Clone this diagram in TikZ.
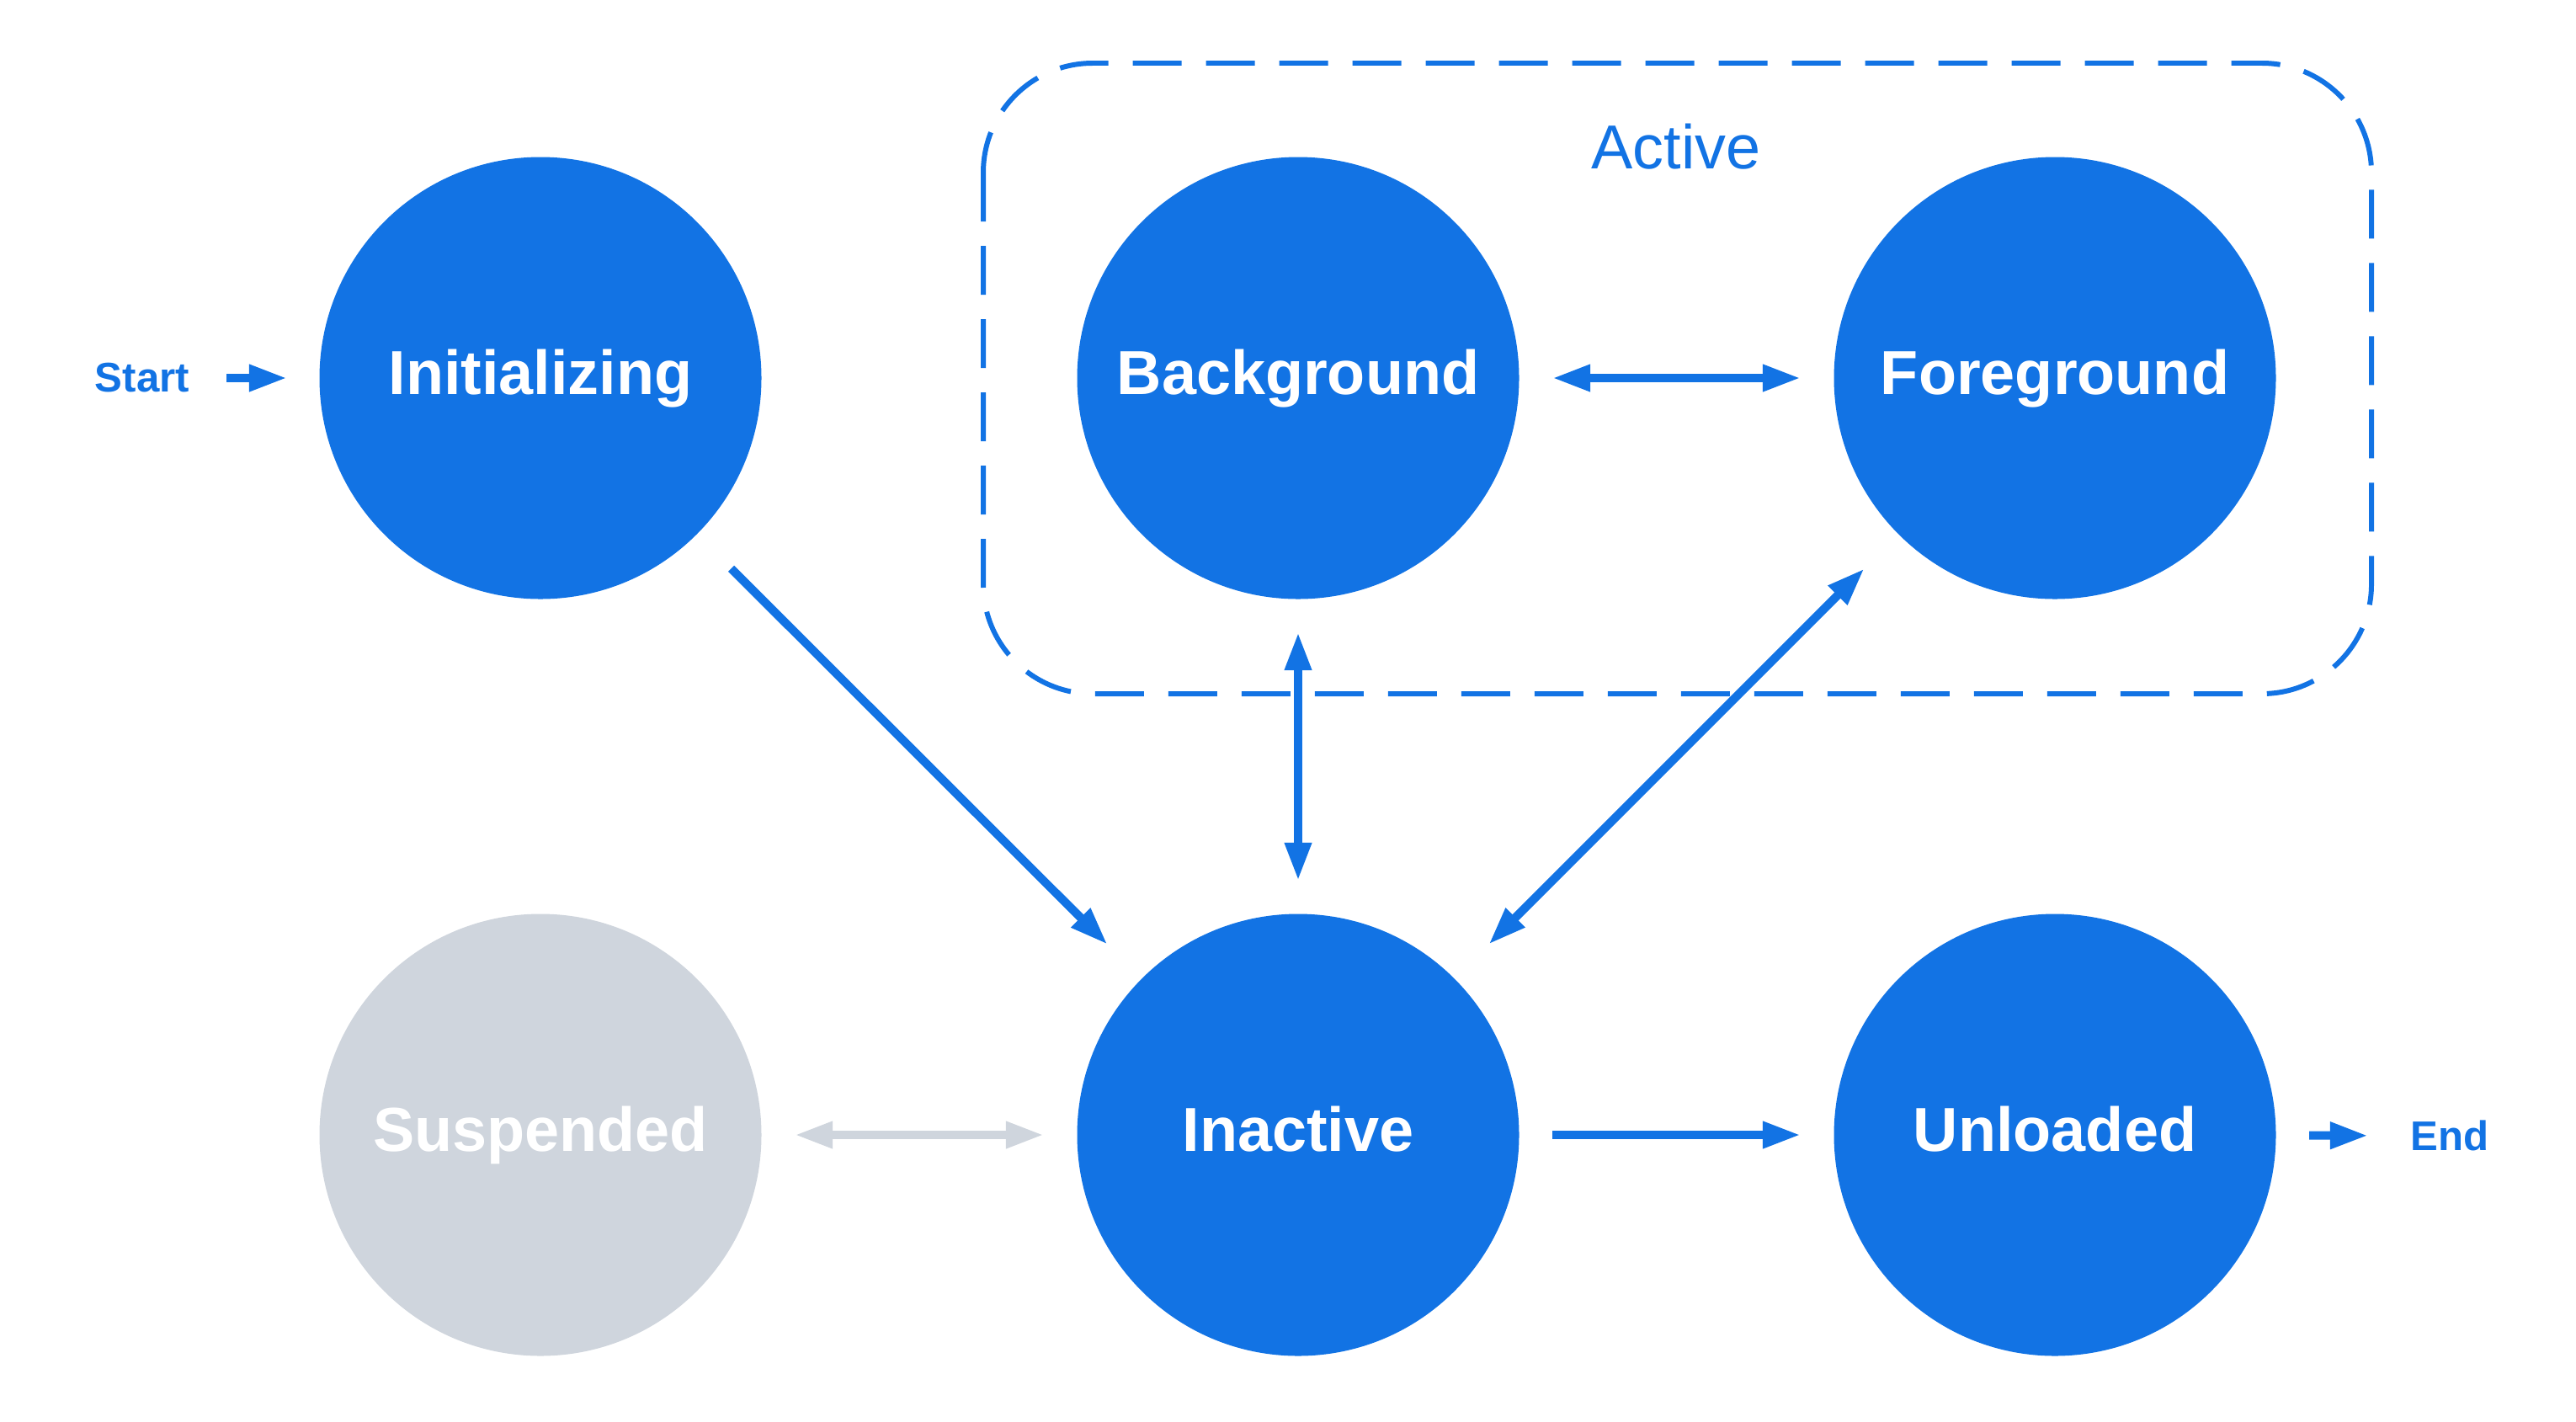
\documentclass[tikz,border=0pt]{standalone}
\usepackage{fontspec}
\setmainfont{Liberation Sans}
\usetikzlibrary{arrows.meta}

\definecolor{stateblue}{HTML}{1273E4}
\definecolor{stategray}{HTML}{CFD5DD}

\begin{document}
\begin{tikzpicture}[>={Triangle[length=0.45cm, width=0.3cm]},
  state/.style={circle, fill=stateblue, minimum size=5.25cm, inner sep=0pt, text=white, text height=15.3pt, text depth=4.4pt, font=\fontsize{21}{25}\selectfont\bfseries},
  idle/.style={state, fill=stategray},
  tag/.style={inner sep=0pt, text=stateblue, font=\fontsize{14}{17}\selectfont\bfseries},
  trans/.style={draw=stateblue, line width=0.1cm, shorten <=0.39cm, shorten >=0.39cm},
  diag/.style={trans, shorten <=0.57cm, shorten >=0.57cm},
  groupbox/.style={draw=stateblue, line width=1.7pt, rounded corners=1.3cm, dash pattern=on 0.58cm off 0.29cm}]
\useasboundingbox (0,0) rectangle (30.6,-16.88);

% active group
\draw[groupbox] (11.68,-0.75) rectangle (28.17,-8.24);
\node (act)[text=stateblue, inner sep=0pt, font=\fontsize{21}{25}\selectfont] at (19.91,-1.74) {Active};

\node (init)[state] at (6.42,-4.49) {Initializing};
\node (bg)[state] at (15.42,-4.49) {Background};
\node (fg)[state] at (24.41,-4.49) {Foreground};

\node (susp)[idle] at (6.42,-13.48) {Suspended};
\node (inact)[state] at (15.42,-13.48) {Inactive};
\node (unl)[state] at (24.41,-13.48) {Unloaded};

\node (start)[tag] at (1.69,-4.49) {Start};
\node (end)[tag] at (29.10,-13.49) {End};

\draw[trans, ->, shorten <=0.43cm, shorten >=0.38cm] (start) -- (init);
\draw[trans, <->] (bg) -- (fg);
\draw[trans, <->] (bg) -- (inact);
\draw[diag, ->] (init) -- (inact);
\draw[diag, <->] (fg) -- (inact);
\draw[trans, <->, draw=stategray] (susp) -- (inact);
\draw[trans, ->] (inact) -- (unl);
\draw[trans, ->, shorten >=0.5cm] (unl) -- (end);
\end{tikzpicture}
\end{document}
